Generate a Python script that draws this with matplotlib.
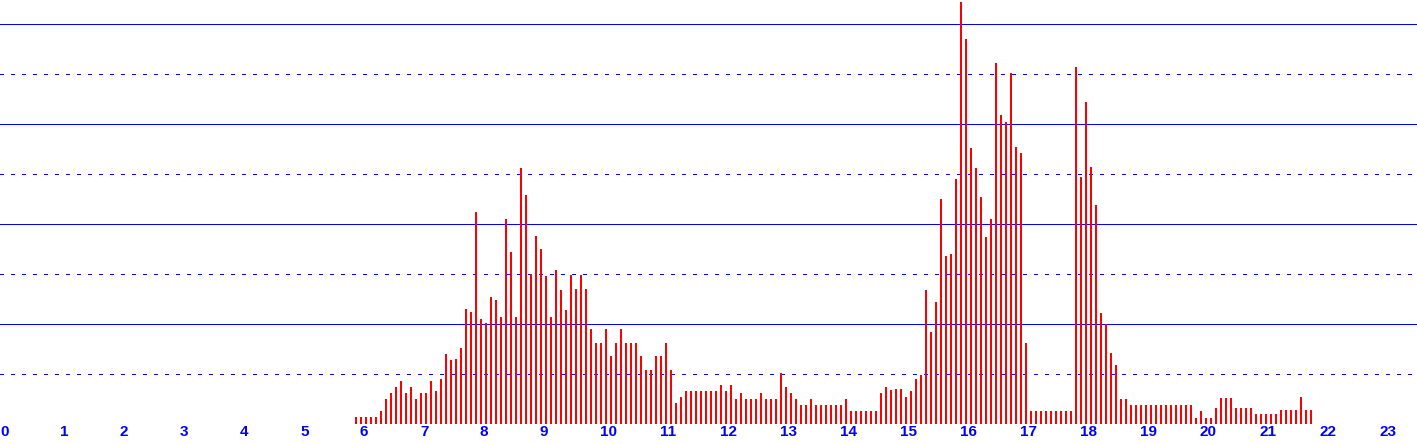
import matplotlib
matplotlib.use("Agg")
import matplotlib.pyplot as plt
import numpy as np

# ---- data -------------------------------------------------------------
first_bin_hour = 5 + 55 / 60          # first bar at 05:55
bin_minutes = 5                        # one bar per 5 minutes
hour_labels = [str(h) for h in range(24)]

morning = [7, 7, 7, 7, 7, 13, 25, 31, 37, 43, 31, 37, 25, 31, 31, 43, 33, 45,
           70, 64, 65, 76, 115, 112, 212, 105, 101, 127, 124, 107, 205, 172,
           107, 256, 229, 150, 188]
late_morning = [175, 148, 107, 154, 134, 114, 149, 135, 149, 135, 95, 81, 81,
                95, 68, 81, 95, 81, 81, 81, 68, 54, 54, 68, 68, 81, 54, 21, 27,
                33, 33, 33, 33, 33, 33, 33, 39, 33]
midday = [39, 25, 31, 25, 25, 25, 31, 25, 25, 25, 51, 37, 31, 25, 19, 19, 25,
          19, 19, 19, 19, 19, 19, 25, 13, 13, 13, 13, 13, 13, 31, 37, 34, 35,
          35, 27, 33, 45]
afternoon = [49, 134, 92, 122, 225, 168, 170, 245, 422, 385, 276, 256, 227,
             187, 205, 361, 309, 302, 351, 277, 271, 81, 13]
evening = [13, 13, 13, 13, 13, 13, 13, 13, 357, 247, 322, 257, 219, 111, 100,
           71, 59, 25, 25, 19, 19]
night = [19, 19, 19, 19, 19, 19, 19, 19, 19, 19, 19, 6, 13, 6, 6, 16, 26, 26,
         26, 16, 16, 16, 16, 10, 10, 10, 10, 10, 14, 14, 14, 14, 27, 14, 14]

values = morning + late_morning + midday + afternoon + evening + night
times = first_bin_hour + np.arange(len(values)) * bin_minutes / 60

solid_levels = [100, 200, 300, 400]
dotted_levels = [50, 150, 250, 350]

# ---- figure -------------------------------------------------------------
W, H = 1417, 444
px_per_hour = 60
fig = plt.figure(figsize=(W / 100, H / 100), dpi=100)
ax = fig.add_axes([0, 20 / H, 1, 424 / H])
ax.set_xlim(0, W / px_per_hour)
ax.set_ylim(0, 424)
for s in ax.spines.values():
    s.set_visible(False)

blue = "#0000FF"
lw = 0.72
for y in solid_levels:
    ax.axhline(y, color=blue, lw=lw, antialiased=False, zorder=1)
for y in dotted_levels:
    ax.axhline(y, color=blue, lw=lw, linestyle=(0, (3, 7)), antialiased=False, zorder=1)
ax.axhline(0.5, color=blue, lw=lw, antialiased=False, zorder=3)

bars = ax.bar(times, values, width=2.0 / px_per_hour,
              align="edge", color="#FF0000", linewidth=0, antialiased=True,
              zorder=2)
for b in bars:
    b.set_snap(False)

ax.set_yticks([])
ax.set_xticks(range(24))
ax.set_xticklabels(hour_labels, family=["Liberation Sans", "DejaVu Sans"],
                   fontweight="bold", fontsize=11, color=blue)
for lbl in ax.get_xticklabels():
    lbl.set_horizontalalignment("left")
ax.tick_params(axis="x", length=0, pad=1)

fig.savefig("out.png", dpi=100)
